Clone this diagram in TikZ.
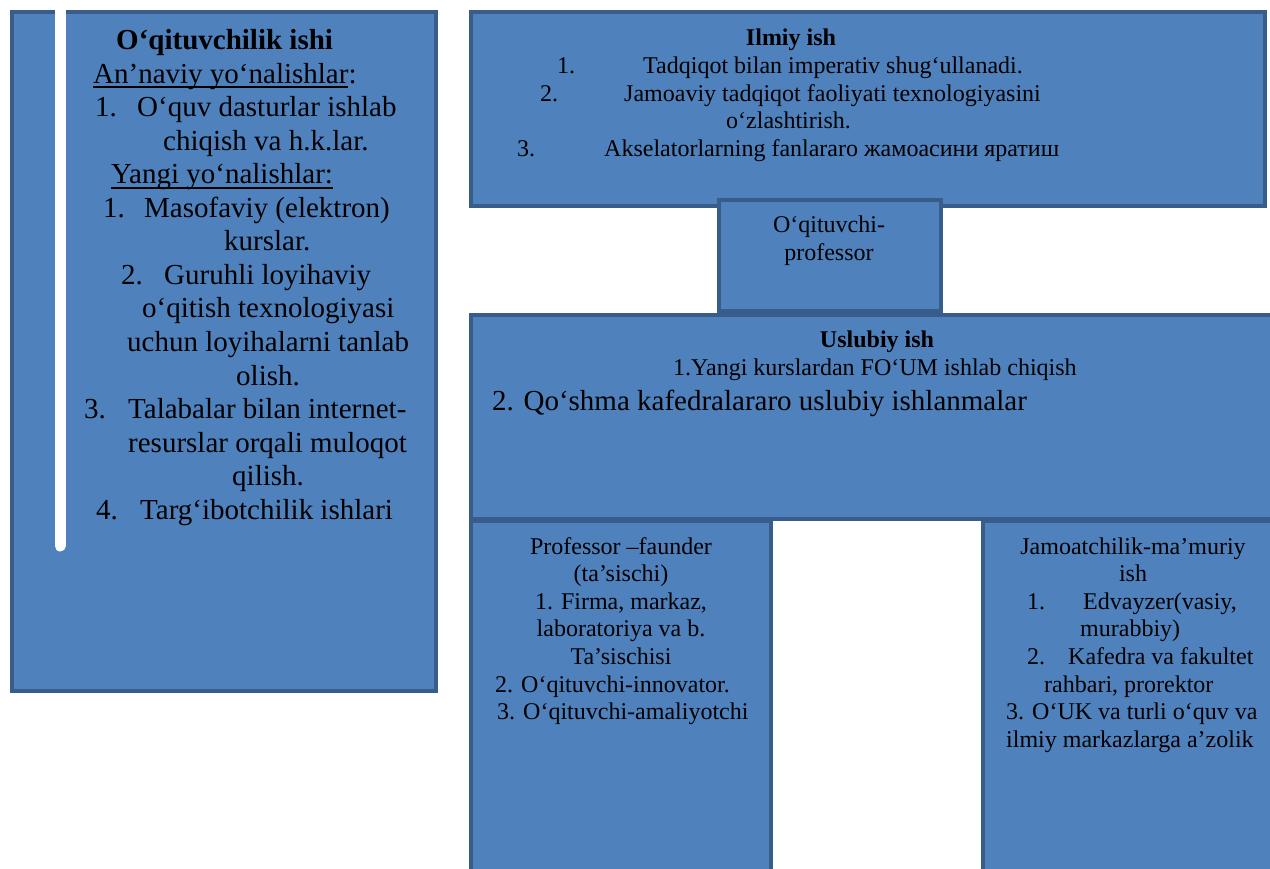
\documentclass[tikz,border=0pt]{standalone}
\usepackage{fontspec}
\setmainfont{Liberation Serif}
\definecolor{boxfill}{HTML}{4F81BD}
\definecolor{boxline}{HTML}{385D8A}
\newcommand\ulx[1]{\leavevmode\setbox0\hbox{#1}\rlap{\vrule width\wd0 height -3pt depth 5pt}\box0}
\tikzset{
  box/.style={draw=boxline, fill=boxfill, line width=3.5pt, inner sep=0pt, outer sep=0pt, anchor=north west},
  bigt/.style={inner sep=0pt, anchor=base west, font=\fontsize{29}{33.5}\selectfont},
  bigb/.style={inner sep=0pt, anchor=base west, font=\fontsize{29}{33.5}\selectfont\bfseries},
  smt/.style={inner sep=0pt, anchor=base west, font=\fontsize{24}{27.6}\selectfont},
  smc/.style={inner sep=0pt, anchor=base, font=\fontsize{24}{27.6}\selectfont},
  smb/.style={inner sep=0pt, anchor=base, font=\fontsize{24}{27.6}\selectfont\bfseries},
  stripe/.style={draw=white, line width=11pt, line cap=round}
}
\begin{document}
\begin{tikzpicture}[x=1pt, y=-1pt]
\useasboundingbox (0,0) rectangle (1270,869);
\clip (0,0) rectangle (1270,869);
% boxes
\node[box, minimum width=424pt, minimum height=679pt] (teach) at (12,12) {};
\node[box, minimum width=794pt, minimum height=194pt] (sci) at (471,12) {};
\node[box, minimum width=819pt, minimum height=204pt] (meth) at (471,315) {};
\node[box, minimum width=300pt, minimum height=379pt] (found) at (471,521) {};
\node[box, minimum width=307pt, minimum height=379pt] (admin) at (983,521) {};
\node[box, minimum width=222pt, minimum height=111pt] (prof) at (719,200) {};
% white stripe
\coordinate (sTop) at (60,-10);
\coordinate (sBot) at (60,546);
\draw[stripe] (sTop) -- (sBot);
% left box text
\node[bigb] (t0) at (116,50) {O‘qituvchilik ishi};
\node[bigt] (t1) at (93,83.5) {\ulx{An’naviy yo‘nalishlar}:};
\node[bigt] (t2n) at (95,117) {1.};
\node[bigt] (t2) at (137,117) {O‘quv dasturlar ishlab};
\node[bigt] (t3) at (163,150.5) {chiqish va h.k.lar.};
\node[bigt] (t4) at (111,184) {\ulx{Yangi yo‘nalishlar:}};
\node[bigt] (t5n) at (103,217.5) {1.};
\node[bigt] (t5) at (144,217.5) {Masofaviy (elektron)};
\node[bigt] (t6) at (224,251) {kurslar.};
\node[bigt] (t7n) at (121,284.5) {2.};
\node[bigt] (t7) at (164,284.5) {Guruhli loyihaviy};
\node[bigt] (t8) at (142,318) {o‘qitish texnologiyasi};
\node[bigt] (t9) at (127,351.5) {uchun loyihalarni tanlab};
\node[bigt] (t10) at (236,385) {olish.};
\node[bigt] (t11n) at (84,418.5) {3.};
\node[bigt] (t11) at (128,418.5) {Talabalar bilan internet-};
\node[bigt] (t12) at (128,452) {resurslar orqali muloqot};
\node[bigt] (t13) at (232,485.5) {qilish.};
\node[bigt] (t14n) at (96,519) {4.};
\node[bigt] (t14) at (140,519) {Targ‘ibotchilik ishlari};
% Ilmiy ish
\node[smb] (i0) at (791,46) {Ilmiy ish};
\node[smt] (i1n) at (557,74) {1.};
\node[smt] (i1) at (643,74) {Tadqiqot bilan imperativ shug‘ullanadi.};
\node[smt] (i2n) at (540,101.5) {2.};
\node[smt] (i2) at (624,101.5) {Jamoaviy tadqiqot faoliyati texnologiyasini};
\node[smt] (i3) at (726,129) {o‘zlashtirish.};
\node[smt] (i4n) at (517,156.5) {3.};
\node[smt] (i4) at (604,156.5) {Akselatorlarning fanlararo жамоасини яратиш};
% O'qituvchi-professor
\node[smc] (m1) at (829,233) {O‘qituvchi-};
\node[smc] (m2) at (829,261) {professor};
% Uslubiy ish
\node[smb] (u0) at (877,347) {Uslubiy ish};
\node[smt] (u1) at (673,375) {1.Yangi kurslardan FO‘UM ishlab chiqish};
\node[bigt] (u2) at (492,410) {2. Qo‘shma kafedralararo uslubiy ishlanmalar};
% Professor-faunder
\node[smc] (f0) at (621,554) {Professor –faunder};
\node[smc] (f1) at (621,581.6) {(ta’sischi)};
\node[smc] (f2) at (621,609.2) {1. Firma, markaz,};
\node[smc] (f3) at (621,636.8) {laboratoriya va b.};
\node[smc] (f4) at (621,664.4) {Ta’sischisi};
\node[smt] (f5) at (495,692) {2. O‘qituvchi-innovator.};
\node[smt] (f6) at (497,719.6) {3. O‘qituvchi-amaliyotchi};
% Jamoatchilik
\node[smc] (r0) at (1133,554) {Jamoatchilik-ma’muriy};
\node[smc] (r1) at (1133,581.6) {ish};
\node[smt] (r2n) at (1027,609.2) {1.};
\node[smt] (r2) at (1083,609.2) {Edvayzer(vasiy,};
\node[smt] (r3) at (1080,636.8) {murabbiy)};
\node[smt] (r4n) at (1027,664.4) {2.};
\node[smt] (r4) at (1068,664.4) {Kafedra va fakultet};
\node[smt] (r5) at (1044,692) {rahbari, prorektor};
\node[smt] (r6) at (1006,719.6) {3. O‘UK va turli o‘quv va};
\node[smt] (r7) at (1006,747.2) {ilmiy markazlarga a’zolik};
\end{tikzpicture}
\end{document}
